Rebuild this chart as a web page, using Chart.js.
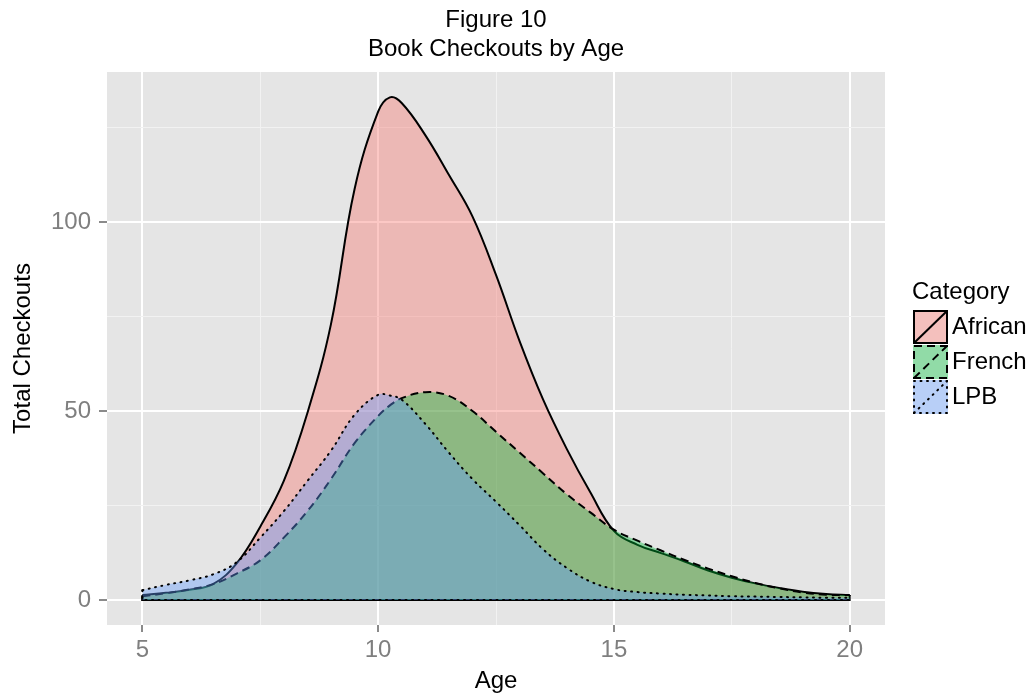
<!DOCTYPE html>
<html>
<head>
<meta charset="utf-8">
<script src="https://cdn.jsdelivr.net/npm/chart.js@4.4.1/dist/chart.umd.min.js"></script>
<style>
  html, body { margin: 0; padding: 0; background: #fff; }
  #wrap { width: 1030px; height: 696px; position: relative; }
</style>
</head>
<body>
<div id="wrap"><canvas id="chart"></canvas></div>
<script>
// values
const ages = [5, 5.5, 6, 6.5, 7, 7.5, 8, 8.5, 9, 9.5, 10, 10.25, 10.5, 11, 11.5, 12, 12.5, 13, 13.5, 14, 14.5, 15, 15.5, 16, 16.5, 17, 17.5, 18, 18.5, 19, 19.5, 20];
const african = [1.3, 1.9, 2.7, 4.2, 9.7, 19.4, 31.5, 49.5, 73, 108.7, 129.2, 133, 131.5, 123, 112.5, 101.5, 86, 68.5, 53, 40, 28.5, 18.3, 14.6, 12.4, 10.2, 7.8, 5.9, 4.4, 3.2, 2.2, 1.6, 1.3];
const french = [1.0, 1.8, 2.8, 4.2, 7, 10.5, 16.5, 23.5, 32, 41.5, 48.7, 51.5, 53.4, 55, 54, 50, 44.5, 39, 33.5, 28, 23.2, 18.6, 15.7, 13.1, 10.6, 8.3, 6.3, 4.5, 3.1, 2.0, 1.4, 1.3];
const lpb = [2.6, 4.0, 5.2, 6.8, 10, 16.5, 23.5, 31.5, 39.5, 49, 54.3, 54.1, 53, 46.6, 39, 32, 26, 19.8, 13.4, 8.5, 4.9, 2.9, 2.1, 1.7, 1.4, 1.2, 1.0, 0.9, 0.8, 0.7, 0.6, 0.6];

const categories = ['African', 'French', 'LPB'];
const xTicks = [5, 10, 15, 20];
const xMinor = [7.5, 12.5, 17.5];
const yTicks = [0, 50, 100];
const yMinor = [25, 75, 125];

const fills = {
    African: 'rgba(248, 118, 109, 0.4)',
    French: 'rgba(0, 186, 56, 0.4)',
    LPB: 'rgba(97, 156, 255, 0.4)'
};
const dashes = {
    African: [],
    French: [8, 5],
    LPB: [1, 5.5]
};
const caps = { African: 'butt', French: 'butt', LPB: 'round' };

Chart.defaults.font.family = '"Liberation Sans", Arial, sans-serif';

function areaSet(name, values) {
    return {
        label: name,
        data: ages.map((a, i) => ({ x: a, y: values[i] })),
        borderColor: '#000',
        borderWidth: 2,
        borderDash: dashes[name],
        borderCapStyle: caps[name],
        backgroundColor: fills[name],
        fill: 'origin',
        pointRadius: 0,
        tension: 0.4
    };
}

// closes the outline: the two ends and the base at zero
function edgeSet(name, values) {
    const n = ages.length - 1;
    return {
        label: name + ' edge',
        data: [
            { x: ages[0], y: values[0] },
            { x: ages[0], y: 0 },
            { x: ages[n], y: 0 },
            { x: ages[n], y: values[n] }
        ],
        borderColor: '#000',
        borderWidth: 2,
        borderDash: dashes[name],
        borderCapStyle: caps[name],
        fill: false,
        pointRadius: 0,
        tension: 0
    };
}

const panelBg = {
    id: 'panelBg',
    beforeDraw(chart) {
        const { ctx, chartArea: a } = chart;
        ctx.save();
        ctx.fillStyle = '#E5E5E5';
        ctx.fillRect(a.left, a.top, a.right - a.left, a.bottom - a.top);
        ctx.restore();
    }
};

// ggplot style legend on the right
const ggLegend = {
    id: 'ggLegend',
    afterDraw(chart) {
        const ctx = chart.ctx;
        ctx.save();
        ctx.font = '24px "Liberation Sans", Arial, sans-serif';
        ctx.fillStyle = '#000';
        ctx.textBaseline = 'middle';
        ctx.textAlign = 'left';
        ctx.fillText('Category', 912, 292);

        categories.forEach((name, i) => {
            const left = 913, top = 310 + i * 35, w = 35, h = 34;
            ctx.fillStyle = '#F2F2F2';
            ctx.fillRect(left, top, w, h);
            ctx.fillStyle = fills[name];
            ctx.fillRect(left, top, w, h);

            ctx.strokeStyle = '#000';
            ctx.lineWidth = 2;
            ctx.setLineDash(dashes[name]);
            ctx.lineCap = caps[name];
            ctx.strokeRect(left + 1, top + 1, w - 2, h - 2);
            ctx.beginPath();
            ctx.moveTo(left + 1, top + h - 1);
            ctx.lineTo(left + w - 1, top + 1);
            ctx.stroke();
            ctx.setLineDash([]);

            ctx.fillStyle = '#000';
            ctx.fillText(name, 952, top + h / 2);
        });
        ctx.restore();
    }
};

const isMajorX = v => xTicks.includes(v);
const isMajorY = v => yTicks.includes(v);

new Chart(document.getElementById('chart'), {
    type: 'line',
    data: {
        // later entries are painted first: African at the bottom, LPB on top
        datasets: [
            edgeSet('LPB', lpb),
            areaSet('LPB', lpb),
            edgeSet('French', french),
            areaSet('French', french),
            edgeSet('African', african),
            areaSet('African', african)
        ]
    },
    options: {
        responsive: true,
        maintainAspectRatio: false,
        animation: false,
        layout: { padding: { left: 0, right: 145, top: 0, bottom: 0 } },
        plugins: {
            legend: { display: false },
            tooltip: { enabled: false },
            title: {
                display: true,
                fullSize: false,
                text: ['Figure 10', 'Book Checkouts by Age'],
                color: '#000',
                font: { size: 24, weight: 'normal' },
                padding: { top: 6, bottom: 8.4 }
            }
        },
        scales: {
            x: {
                type: 'linear',
                min: 4.25,
                max: 20.75,
                afterBuildTicks: s => {
                    s.ticks = xTicks.concat(xMinor).sort((a, b) => a - b).map(v => ({ value: v }));
                },
                afterFit: s => { s.height = 71; },
                border: { display: false },
                grid: {
                    color: c => isMajorX(c.tick.value) ? '#FFFFFF' : '#F2F2F2',
                    lineWidth: c => isMajorX(c.tick.value) ? 2 : 1,
                    tickColor: c => isMajorX(c.tick.value) ? '#8A8A8A' : 'rgba(0,0,0,0)',
                    tickWidth: 2,
                    tickLength: 7
                },
                ticks: {
                    autoSkip: false,
                    maxRotation: 0,
                    color: '#7F7F7F',
                    font: { size: 24 },
                    padding: 4,
                    callback: v => isMajorX(v) ? String(v) : ''
                },
                title: {
                    display: true,
                    text: 'Age',
                    color: '#000',
                    font: { size: 24 },
                    padding: { top: 0, bottom: 0 }
                }
            },
            y: {
                type: 'linear',
                min: -6.61,
                max: 139.7,
                afterBuildTicks: s => {
                    s.ticks = yTicks.concat(yMinor).sort((a, b) => a - b).map(v => ({ value: v }));
                },
                afterFit: s => { s.width = 107; },
                border: { display: false },
                grid: {
                    color: c => isMajorY(c.tick.value) ? '#FFFFFF' : '#F2F2F2',
                    lineWidth: c => isMajorY(c.tick.value) ? 2 : 1,
                    tickColor: c => isMajorY(c.tick.value) ? '#8A8A8A' : 'rgba(0,0,0,0)',
                    tickWidth: 2,
                    tickLength: 8
                },
                ticks: {
                    autoSkip: false,
                    color: '#7F7F7F',
                    font: { size: 24 },
                    padding: 8,
                    callback: v => isMajorY(v) ? String(v) : ''
                },
                title: {
                    display: true,
                    text: 'Total Checkouts',
                    color: '#000',
                    font: { size: 24 },
                    padding: { top: 9, bottom: 0 }
                }
            }
        }
    },
    plugins: [panelBg, ggLegend]
});
</script>
</body>
</html>
